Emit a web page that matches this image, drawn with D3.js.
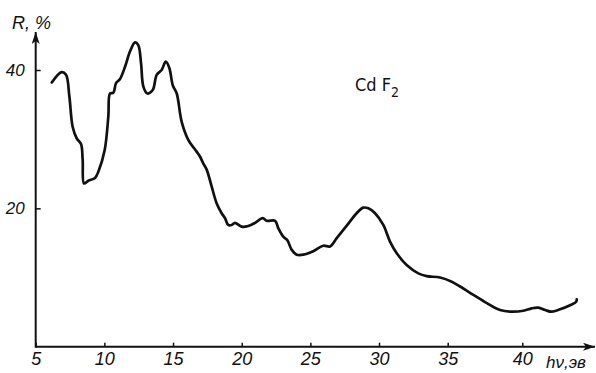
<!DOCTYPE html>
<html>
<head>
<meta charset="utf-8">
<script src="https://cdn.jsdelivr.net/npm/d3@7"></script>
<style>
    body { margin: 0; background: #fff; }
    .curve { fill: none; stroke: #111; stroke-width: 2.7; stroke-linejoin: round; stroke-linecap: round; }
    .axis-line { stroke: #111; stroke-width: 2; }
    .tick line { stroke: #111; stroke-width: 1.5; }
    .tick text, .lbl { font-family: "Liberation Sans", Arial, sans-serif; font-style: italic; fill: #111; }
    .formula { font-family: "DejaVu Sans Condensed", "DejaVu Sans", sans-serif; font-weight: 300; fill: #111; }
</style>
</head>
<body>
<div id="chart"></div>
<script>
// photon energy, eV
const energy = [
    6.17, 6.89, 7.21, 7.45, 7.69, 7.99, 8.30, 8.42, 8.52, 8.83, 9.32, 9.56,
    10.02, 10.29, 10.41, 10.65, 10.85, 11.14, 11.51, 11.87, 12.23, 12.47, 12.67, 12.84,
    13.13, 13.52, 13.81, 14.17, 14.47, 14.73, 14.98, 15.27, 15.63, 16.11, 16.72, 16.96,
    17.2, 17.45, 17.82, 18.18, 18.54, 18.78, 19.02, 19.27, 19.51, 20.0, 20.48, 20.97,
    21.53, 21.82, 22.43, 22.67, 23.03, 23.32, 23.64, 24.01, 24.49, 25.21, 25.94, 26.43,
    26.92, 27.65, 28.37, 28.85, 29.22, 29.71, 30.31, 30.80, 31.29, 32.01, 32.86, 33.47,
    34.44, 35.27, 35.83, 36.72, 37.62, 38.51, 39.30, 40.07, 40.63, 41.08, 41.53, 41.98,
    42.53, 43.20, 43.61, 43.65
];
// reflectance R, %
const reflectance = [
    38.2, 39.7, 39.3, 36.2, 31.8, 30.1, 29.3, 27.0, 23.6, 24.0, 24.4, 25.3,
    28.4, 33.3, 36.6, 36.7, 38.1, 38.7, 40.5, 42.7, 44.0, 43.6, 41.0, 37.6,
    36.6, 37.1, 39.3, 40.0, 41.2, 40.3, 37.8, 36.6, 32.5, 29.9, 28.2, 27.5,
    26.5, 25.6, 23.1, 20.7, 19.3, 18.6, 17.6, 17.6, 17.9, 17.35, 17.45, 17.9,
    18.6, 18.2, 18.2, 17.1, 15.9, 15.4, 14.0, 13.3, 13.3, 13.8, 14.6, 14.5,
    15.7, 17.5, 19.3, 20.1, 20.0, 19.3, 17.6, 15.2, 13.5, 11.8, 10.6, 10.2,
    10.0, 9.4, 8.7, 7.5, 6.3, 5.3, 5.06, 5.2, 5.55, 5.64, 5.3, 5.06,
    5.4, 6.0, 6.5, 6.85
];
const xTicks = [5, 10, 15, 20, 25, 30, 35, 40];
const yTicks = [20, 40];

class ReflectanceChart {
    constructor(containerId, options = {}) {
        this.containerId = containerId;
        this.options = {
            width: options.width || 596,
            height: options.height || 373
        };
        this.init();
    }

    init() {
        d3.select(`#${this.containerId}`).select('svg').remove();

        this.svg = d3.select(`#${this.containerId}`)
            .append('svg')
            .attr('width', this.options.width)
            .attr('height', this.options.height);

        // the scanned drawing is a little stretched past 35 eV
        this.x = d3.scaleLinear().domain([5, 35, 40]).range([35.7, 447.7, 522.3]);
        this.y = d3.scaleLinear().domain([0, 40]).range([346.7, 70]);

        this.drawAxes();
        this.drawCurve();
        this.drawLabels();
    }

    drawAxes() {
        const x0 = this.x(5), y0 = this.y(0);

        this.svg.append('defs').append('marker')
            .attr('id', 'arrow')
            .attr('viewBox', '0 0 12 8')
            .attr('refX', 12).attr('refY', 4)
            .attr('markerWidth', 12).attr('markerHeight', 8)
            .attr('markerUnits', 'userSpaceOnUse')
            .attr('orient', 'auto')
            .append('path')
            .attr('d', 'M0,0 L12,4 L0,8 L3,4 Z')
            .attr('fill', '#111');

        this.svg.append('line')
            .attr('class', 'axis-line')
            .attr('x1', x0).attr('y1', y0)
            .attr('x2', 595).attr('y2', y0)
            .attr('marker-end', 'url(#arrow)');

        this.svg.append('line')
            .attr('class', 'axis-line')
            .attr('x1', x0).attr('y1', y0 + 1)
            .attr('x2', x0).attr('y2', 32)
            .attr('marker-end', 'url(#arrow)');

        const xAxis = this.svg.append('g')
            .attr('transform', `translate(0,${y0})`)
            .call(d3.axisBottom(this.x).tickValues(xTicks).tickSize(-4).tickPadding(6));
        xAxis.select('.domain').remove();
        xAxis.selectAll('text').style('font-size', '18px');

        const yAxis = this.svg.append('g')
            .attr('transform', `translate(${x0},0)`)
            .call(d3.axisLeft(this.y).tickValues(yTicks).tickSize(-5).tickPadding(11));
        yAxis.select('.domain').remove();
        yAxis.selectAll('text').style('font-size', '17px');
    }

    drawCurve() {
        const points = energy.map((e, i) => [e, reflectance[i]]);
        const line = d3.line()
            .x(d => this.x(d[0]))
            .y(d => this.y(d[1]))
            .curve(d3.curveCatmullRom.alpha(0.5));

        this.svg.append('path')
            .datum(points)
            .attr('class', 'curve')
            .attr('d', line);
    }

    drawLabels() {
        this.svg.append('text')
            .attr('class', 'lbl')
            .attr('x', 12).attr('y', 29)
            .style('font-size', '18px')
            .text('R, %');

        this.svg.append('text')
            .attr('class', 'lbl')
            .attr('x', 546).attr('y', 368)
            .style('font-size', '17px')
            .text('hν,эв');

        const formula = this.svg.append('text')
            .attr('class', 'formula')
            .attr('x', 355).attr('y', 91)
            .style('font-size', '18px');
        formula.append('tspan').text('Cd F');
        formula.append('tspan').attr('dy', 6).style('font-size', '14px').text('2');
    }
}

const chart = new ReflectanceChart('chart', { width: 596, height: 373 });
</script>
</body>
</html>
